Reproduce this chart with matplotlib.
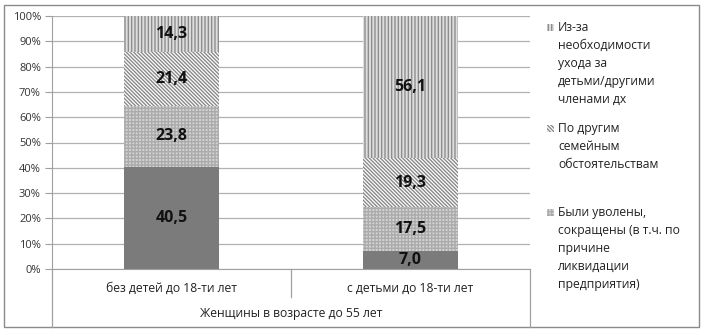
import matplotlib
matplotlib.use("Agg")
import matplotlib.pyplot as plt
from matplotlib.patches import Rectangle
from matplotlib.lines import Line2D

plt.rcParams['font.family'] = ['Open Sans', 'DejaVu Sans']
plt.rcParams['hatch.linewidth'] = 1.0

categories = ["без детей до 18-ти лет", "с детьми до 18-ти лет"]
group_label = "Женщины в возрасте до 55 лет"
series_names = [
    "Другое",
    "Были уволены,\nсокращены (в т.ч. по\nпричине\nликвидации\nпредприятия)",
    "По другим\nсемейным\nобстоятельствам",
    "Из-за\nнеобходимости\nухода за\nдетьми/другими\nчленами дх",
]
values = [
    [40.5, 7.0],
    [23.8, 17.5],
    [21.4, 19.3],
    [14.3, 56.1],
]
yticks = [0, 10, 20, 30, 40, 50, 60, 70, 80, 90, 100]
ytick_labels = [f"{v}%" for v in yticks]

styles = [
    dict(facecolor="#7b7b7b", edgecolor="#7b7b7b", hatch=None),
    dict(facecolor="#d4d4d4", edgecolor="#ababab", hatch="+++++"),
    dict(facecolor="#ffffff", edgecolor="#8a8a8a", hatch="\\" * 9),
    dict(facecolor="#dedede", edgecolor="#8e8e8e", hatch="|" * 5),
]

W, H = 703, 331
fig = plt.figure(figsize=(W / 100, H / 100), dpi=100)
ax_left, ax_right = 52 / W, 530 / W
ax_bottom, ax_top = 1 - 269 / H, 1 - 16 / H
ax = fig.add_axes([ax_left, ax_bottom, ax_right - ax_left, ax_top - ax_bottom])

x = list(range(len(categories)))
bottoms = [0.0] * len(categories)
for vals, st in zip(values, styles):
    ax.bar(x, vals, width=0.4, bottom=bottoms, facecolor=st["facecolor"],
           edgecolor=st["edgecolor"], hatch=st["hatch"], linewidth=0, zorder=2)
    for xi, v, b in zip(x, vals, bottoms):
        ax.text(xi, b + v / 2, f"{v:.1f}".replace(".", ","), ha="center", va="center",
                fontsize=11.5, fontweight="bold", color="#111111", zorder=4)
    bottoms = [b + v for b, v in zip(bottoms, vals)]

ax.set_xlim(-0.5, 1.5)
ax.set_ylim(0, 100)
ax.set_yticks(yticks)
ax.set_yticklabels(ytick_labels, fontsize=8, color="#333333")
ax.set_xticks([])
ax.yaxis.grid(True, color="#b0b0b0", linewidth=0.9, zorder=0)
ax.set_axisbelow(True)
for s in ["top", "right"]:
    ax.spines[s].set_visible(False)
ax.spines["left"].set_color("#a0a0a0")
ax.spines["bottom"].set_color("#a0a0a0")
ax.tick_params(axis="y", length=5, color="#a0a0a0", pad=3)

# category labels and box
for xi, c in zip(x, categories):
    ax.text(xi, -7.5, c, ha="center", va="center", fontsize=8.7, color="#222222",
            transform=ax.transData, clip_on=False)
ax.add_line(Line2D([0.5, 0.5], [0, -11], color="#a0a0a0", linewidth=0.9, clip_on=False))
fig.text((ax_left + ax_right) / 2, 1 - 313 / H, group_label, ha="center", va="center",
         fontsize=8.7, color="#222222")
fig.add_artist(Line2D([ax_left, ax_left], [1 - 269 / H, 1 - 327 / H],
                      transform=fig.transFigure, color="#a0a0a0", linewidth=0.9))
fig.add_artist(Line2D([ax_right, ax_right], [1 - 269 / H, 1 - 327 / H],
                      transform=fig.transFigure, color="#a0a0a0", linewidth=0.9))

# outer border
fig.add_artist(Rectangle((4 / W, 1 - 327 / H), (699 - 4) / W, (327 - 5) / H,
                         transform=fig.transFigure, fill=False, edgecolor="#8a8a8a",
                         linewidth=1.0))

# legend (manual)
legend_tops = [27, 128, 212]
for idx, top in zip([3, 2, 1], legend_tops):
    st = styles[idx]
    fig.add_artist(Rectangle((547 / W, 1 - (top + 4) / H), 7 / W, 7 / H,
                             transform=fig.transFigure, facecolor=st["facecolor"],
                             edgecolor=st["edgecolor"], hatch=st["hatch"], linewidth=0))
    fig.text(558 / W, 1 - (top - 6) / H, series_names[idx], ha="left", va="top",
             fontsize=8.7, color="#222222", linespacing=1.5)

fig.savefig("out.png", dpi=100)
